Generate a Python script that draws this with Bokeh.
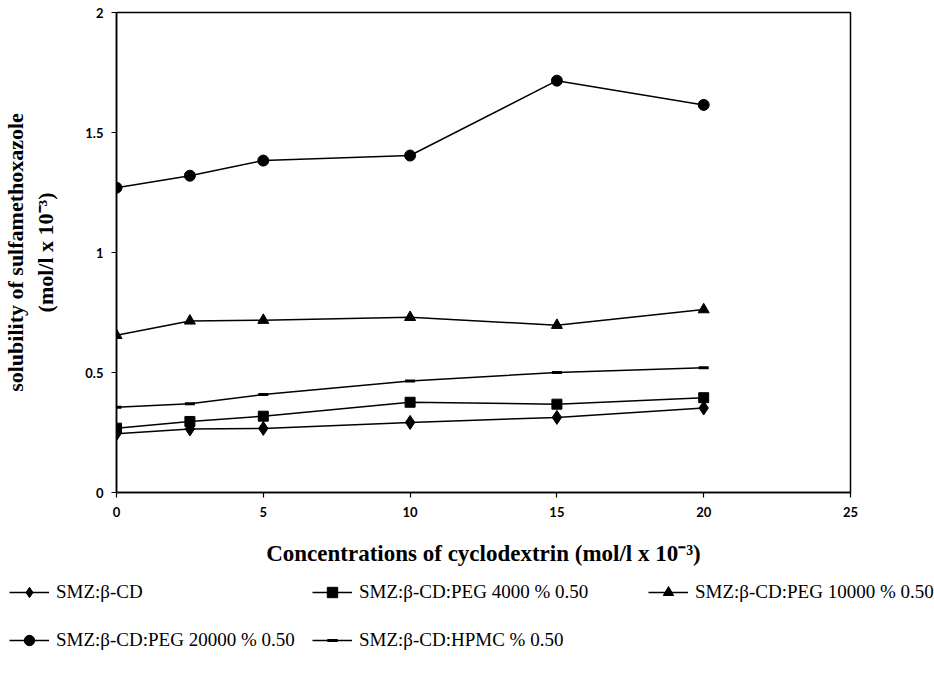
from bokeh.plotting import figure
from bokeh.models import Range1d, Legend, LegendItem, FixedTicker
from bokeh.layouts import column
from bokeh.embed import file_html
from bokeh.resources import INLINE

conc = [0, 2.5, 5, 10, 15, 20]
smz_bcd = [0.245, 0.265, 0.267, 0.292, 0.313, 0.352]
peg4000 = [0.268, 0.296, 0.318, 0.376, 0.368, 0.395]
peg10000 = [0.655, 0.715, 0.718, 0.73, 0.697, 0.762]
peg20000 = [1.27, 1.32, 1.383, 1.404, 1.716, 1.615]
hpmc = [0.355, 0.37, 0.408, 0.465, 0.5, 0.52]

labels = ["SMZ:β-CD", "SMZ:β-CD:PEG 4000 % 0.50", "SMZ:β-CD:PEG 10000 % 0.50",
          "SMZ:β-CD:PEG 20000 % 0.50", "SMZ:β-CD:HPMC % 0.50"]
x_ticks = [0, 5, 10, 15, 20, 25]
y_ticks = [0, 0.5, 1, 1.5, 2]

p = figure(width=934, height=570, output_backend="svg", toolbar_location=None,
           x_range=Range1d(0, 25), y_range=Range1d(0, 2),
           min_border_left=116, min_border_right=84, min_border_top=12,
           min_border_bottom=78)
p.grid.visible = False
p.outline_line_color = "black"
p.outline_line_width = 1.5
p.background_fill_color = "white"
p.border_fill_color = "white"

# legend strip below the chart
lg_fig = figure(width=934, height=108, output_backend="svg", toolbar_location=None,
                x_range=Range1d(0, 1), y_range=Range1d(100, 101),
                min_border=0, x_axis_location=None, y_axis_location=None)
lg_fig.grid.visible = False
lg_fig.outline_line_color = None
lg_fig.background_fill_color = "white"
lg_fig.border_fill_color = "white"

for fig in (p, lg_fig):
    if "frame_align" in fig.properties():
        fig.frame_align = False

series = [
    (smz_bcd, "diamond", 14, 1),
    (peg4000, "square", 10, 1),
    (peg10000, "triangle", 11, 1),
    (peg20000, "circle", 11, 1),
    (hpmc, "dash", 10, 3),
]

items = []
for (vals, marker, size, lw), lab in zip(series, labels):
    p.line(conc, vals, line_color="black", line_width=1.5)
    p.scatter(conc, vals, marker=marker, size=size, line_color="black",
              fill_color="black", line_width=lw)
    l1 = lg_fig.line(conc, vals, line_color="black", line_width=1.5)
    l2 = lg_fig.scatter(conc, vals, marker=marker, size=size, line_color="black",
                        fill_color="black", line_width=lw)
    items.append(LegendItem(label=lab, renderers=[l1, l2]))

for ax in (p.xaxis[0], p.yaxis[0]):
    ax.axis_line_width = 1.5
    ax.axis_line_color = "black"
    ax.major_tick_line_color = "black"
    ax.major_tick_line_width = 1.2
    ax.major_tick_out = 5
    ax.major_tick_in = 0
    ax.minor_tick_line_color = None
    ax.major_label_text_font = "Lato"
    ax.major_label_text_font_style = "bold"
    ax.major_label_text_font_size = "13px"
    ax.major_label_text_color = "black"
    ax.axis_label_text_font = "Liberation Serif"
    ax.axis_label_text_font_style = "bold"
    ax.axis_label_text_color = "black"

p.xaxis.axis_label_text_font_size = "23px"
p.yaxis.axis_label_text_font_size = "22px"
p.xaxis.ticker = FixedTicker(ticks=x_ticks)
p.yaxis.ticker = FixedTicker(ticks=y_ticks)
p.yaxis.major_label_overrides = {0: "0", 0.5: "0.5", 1: "1", 1.5: "1.5", 2: "2"}
p.xaxis.major_label_standoff = 9
p.yaxis.major_label_standoff = 8
p.xaxis.axis_label = "Concentrations of cyclodextrin (mol/l x 10⁻³)"
p.xaxis.axis_label_standoff = 21
p.yaxis.axis_label = "solubility of sulfamethoxazole\n(mol/l x 10⁻³)"
p.yaxis.axis_label_standoff = 24

# legend entries: bottom-left corners within the legend strip
positions = [(9, 73), (312, 73), (648, 73), (9, 25), (312, 25)]
for item, loc in zip(items, positions):
    lg = Legend(items=[item], location=loc, orientation="horizontal",
                border_line_color=None, background_fill_alpha=0,
                padding=0, margin=0, glyph_width=40, glyph_height=26,
                label_height=26, label_standoff=7,
                label_text_font="Liberation Serif", label_text_font_size="19px",
                label_text_color="black")
    lg_fig.add_layout(lg, "center")

open("out.html", "w").write(file_html(column(p, lg_fig, spacing=0), INLINE))
